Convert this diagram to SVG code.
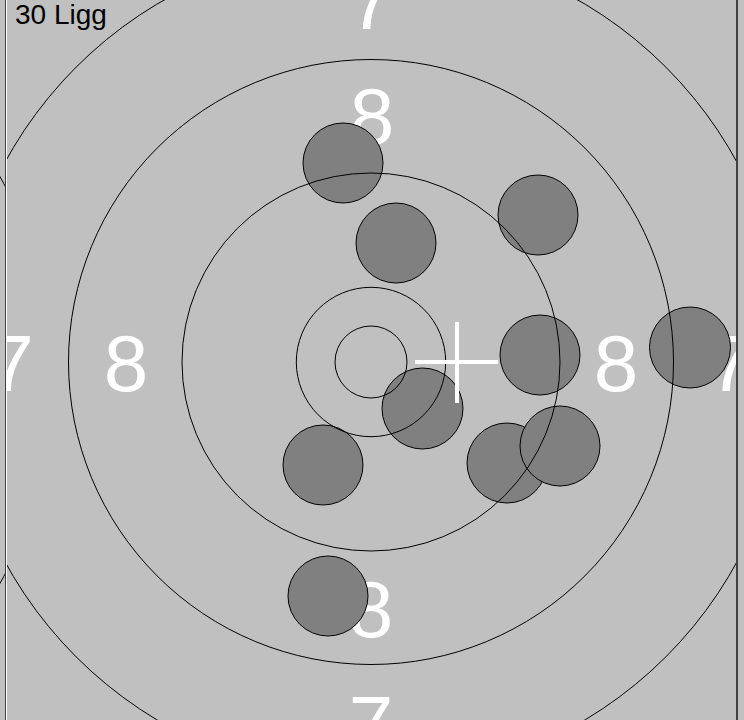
<svg xmlns="http://www.w3.org/2000/svg" width="744" height="720" viewBox="0 0 744 720">
  <style>
    .ring { fill: none; stroke: #000; stroke-width: 1; }
    .shot { fill: #808080; stroke: #000; stroke-width: 1; }
    .num { font-family: "Liberation Sans", Arial, sans-serif; font-size: 80px; fill: #fff; text-anchor: middle; }
    .cross { stroke: #fff; stroke-width: 4; }
  </style>
  <defs>
    <clipPath id="leftPanel"><rect x="0" y="0" width="5" height="720"/></clipPath>
    <clipPath id="mainPanel"><rect x="7" y="0" width="729" height="720"/></clipPath>
  </defs>
  <rect id="background" x="0" y="0" width="744" height="720" fill="#c0c0c0"/>
  <g id="neighbour" clip-path="url(#leftPanel)">
    <circle class="ring" cx="-364" cy="380" r="417"/>
  </g>
  <g id="target" clip-path="url(#mainPanel)">
    <g id="labels">
      <text class="num" x="126" y="391">8</text>
      <text class="num" x="616" y="391">8</text>
      <text class="num" x="372" y="144">8</text>
      <text class="num" x="371" y="637">8</text>
      <text class="num" x="11.5" y="391">7</text>
      <text class="num" x="730.5" y="391">7</text>
      <text class="num" x="371" y="29">7</text>
      <text class="num" x="371" y="752">7</text>
    </g>
    <g id="shots">
      <circle id="shot1" class="shot" cx="343" cy="163" r="40"/>
      <circle id="shot2" class="shot" cx="538" cy="215" r="40"/>
      <circle id="shot3" class="shot" cx="396" cy="243" r="40"/>
      <circle id="shot4" class="shot" cx="540" cy="355" r="40"/>
      <circle id="shot5" class="shot" cx="690" cy="347.5" r="40.5"/>
      <circle id="shot6" class="shot" cx="422.5" cy="408.5" r="40.5"/>
      <circle id="shot7" class="shot" cx="323" cy="465" r="40"/>
      <circle id="shot8" class="shot" cx="507" cy="463" r="40"/>
      <circle id="shot9" class="shot" cx="560" cy="446" r="40"/>
      <circle id="shot10" class="shot" cx="328" cy="596" r="40"/>
    </g>
    <g id="rings">
      <circle class="ring" cx="371" cy="362" r="36"/>
      <circle class="ring" cx="371" cy="362" r="74.7"/>
      <circle class="ring" cx="371" cy="362" r="189"/>
      <circle class="ring" cx="371" cy="362" r="302.5"/>
      <circle class="ring" cx="371" cy="362" r="417"/>
    </g>
    <g id="crosshair">
      <line class="cross" x1="415" y1="362" x2="498" y2="362"/>
      <line class="cross" x1="457" y1="322" x2="457" y2="403"/>
    </g>
  </g>
  <g id="frame">
    <line x1="5.5" y1="0" x2="5.5" y2="720" stroke="#404040" stroke-width="1"/>
    <line x1="6.5" y1="0" x2="6.5" y2="720" stroke="#ffffff" stroke-width="1"/>
    <line x1="737" y1="0" x2="737" y2="720" stroke="#404040" stroke-width="2"/>
  </g>
  <text id="title" x="15" y="24" font-family="Liberation Sans, Arial, sans-serif" font-size="28" fill="#000">30 Ligg</text>
</svg>
